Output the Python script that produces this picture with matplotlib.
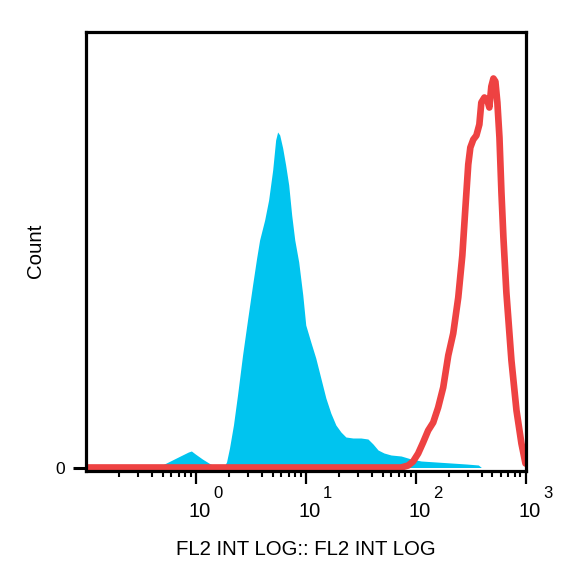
import numpy as np
import matplotlib.pyplot as plt

plt.rcParams['font.family'] = ['Liberation Sans', 'DejaVu Sans']

# FL2 channel positions are stored as decades (log10 of intensity)
blue_dec = [-1.0, -0.37, -0.324, -0.233, -0.142, -0.068, -0.041, -0.005, 0.059, 0.132,
            0.205, 0.251, 0.279, 0.306, 0.342, 0.379, 0.425, 0.470, 0.516, 0.553,
            0.580, 0.626, 0.662, 0.699, 0.726, 0.744, 0.763, 0.790, 0.817, 0.845,
            0.872, 0.900, 0.936, 0.973, 1.000, 1.046, 1.091, 1.137, 1.183, 1.228,
            1.274, 1.320, 1.365, 1.429, 1.502, 1.566, 1.612, 1.658, 1.712, 1.776,
            1.868, 1.959, 2.050, 2.187, 2.324, 2.461, 2.571, 2.598, 3.0]
blue_count = [0, 0, 1.5, 6.5, 11.5, 15.5, 16.5, 13.5, 8.5, 3.5,
              0.5, 0, 5.5, 19.5, 42.5, 72.5, 112.5, 147.5, 182.5, 209.5,
              227.5, 247.5, 267.5, 297.5, 327.5, 335.5, 332.5, 319.5, 302.5, 282.5,
              252.5, 227.5, 205.5, 172.5, 142.5, 125.5, 109.5, 89.5, 69.5, 54.5,
              42.5, 35.5, 30.5, 29.5, 29.5, 28.5, 23.5, 17.5, 14.5, 12.5,
              11.5, 8.5, 6.5, 5.5, 4.5, 3.5, 2.5, 0, 0]

red_dec = [-1.0, 1.868, 1.932, 1.977, 2.023, 2.068, 2.114, 2.160, 2.205, 2.251,
           2.297, 2.342, 2.388, 2.425, 2.452, 2.479, 2.498, 2.525, 2.553, 2.580,
           2.598, 2.626, 2.653, 2.671, 2.689, 2.708, 2.726, 2.744, 2.763, 2.781,
           2.799, 2.826, 2.872, 2.918, 2.963, 3.0]
red_count = [0, 0, 2, 6, 14, 25, 37, 45, 60, 80,
             112, 134, 170, 212, 258, 303, 320, 328, 332, 343,
             365, 370, 367, 360, 381, 389, 386, 365, 330, 275,
             230, 175, 107, 57, 24, 4]

major_ticks = [1, 10, 100, 1000]
exponents = ['0', '1', '2', '3']

blue_x = 10 ** np.array(blue_dec)
red_x = 10 ** np.array(red_dec)

fig = plt.figure(figsize=(5.84, 5.84), dpi=100)
ax = fig.add_axes([86 / 584, 113.5 / 584, 439.5 / 584, 439 / 584])

ax.fill_between(blue_x, blue_count, 0, color='#00C4EF', linewidth=0)
ax.plot(red_x, red_count, color='#EE4242', lw=4.8, solid_joinstyle='round',
        solid_capstyle='round')

ax.set_xscale('log')
ax.set_xlim(0.1, 1000)
ax.set_ylim(-3, 436)

for s in ax.spines.values():
    s.set_linewidth(2.3)

ax.set_xticks(major_ticks)
ax.set_xticks([m * 10.0 ** k for k in range(-1, 3) for m in range(2, 10)], minor=True)
ax.set_xticklabels([])
ax.xaxis.set_minor_formatter(plt.NullFormatter())
ax.tick_params(axis='x', which='major', length=9.4, width=1.6, direction='out')
ax.tick_params(axis='x', which='minor', length=4.3, width=1.5, direction='out')

ax.set_yticks([0])
ax.set_yticklabels(['0'])
ax.tick_params(axis='y', length=9.4, width=2.2, pad=5.8, labelsize=12.5)

# tick labels 10^n drawn as base plus raised exponent
for t, e in zip(major_ticks, exponents):
    ax.annotate('10', xy=(t, 0), xycoords=('data', 'axes fraction'),
                xytext=(4, -46.5), textcoords='offset pixels',
                ha='center', va='baseline', fontsize=14.5, annotation_clip=False)
    ax.annotate(e, xy=(t, 0), xycoords=('data', 'axes fraction'),
                xytext=(22, -27.5), textcoords='offset pixels',
                ha='center', va='baseline', fontsize=12, annotation_clip=False)

ax.set_xlabel('FL2 INT LOG:: FL2 INT LOG', fontsize=14.7, va='baseline')
ax.xaxis.set_label_coords(0.5, -(555 - 470.5) / 439)
ax.set_ylabel('Count', fontsize=14.7, va='baseline')
ax.yaxis.set_label_coords((41.5 - 86) / 439.5, 0.5)

fig.savefig('out.png', dpi=100)
